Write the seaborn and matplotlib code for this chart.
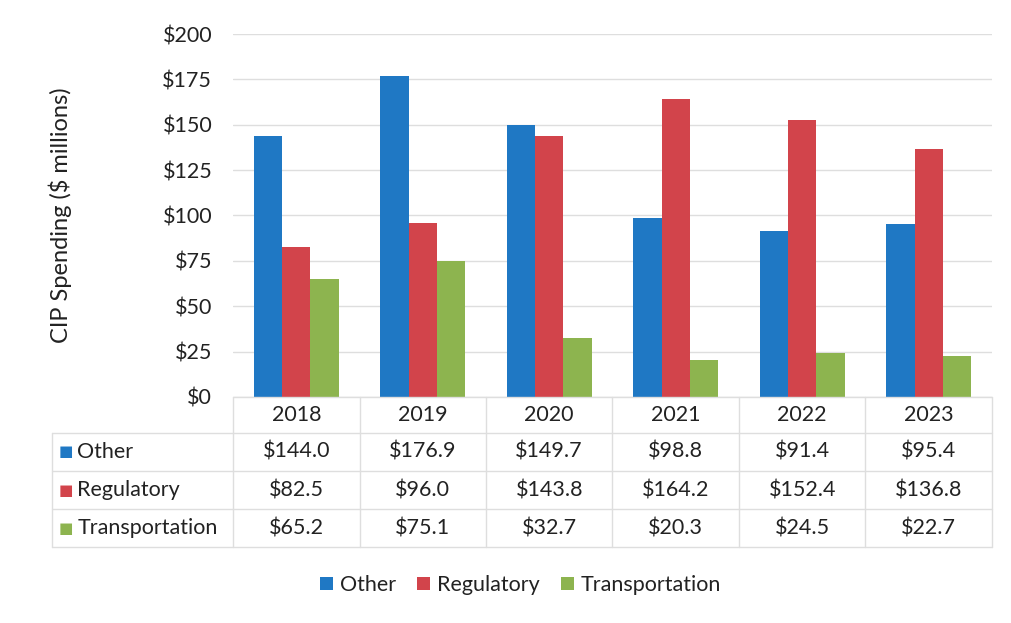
import numpy as np
import pandas as pd
import matplotlib.pyplot as plt
import matplotlib.transforms as mtransforms
import seaborn as sns

years = ["2018", "2019", "2020", "2021", "2022", "2023"]
series_names = ["Other", "Regulatory", "Transportation"]
other = [144.0, 176.9, 149.7, 98.8, 91.4, 95.4]
regulatory = [82.5, 96.0, 143.8, 164.2, 152.4, 136.8]
transportation = [65.2, 75.1, 32.7, 20.3, 24.5, 22.7]
y_ticks = [0, 25, 50, 75, 100, 125, 150, 175, 200]

colors = ["#1f78c4", "#d2444b", "#8db44f"]

df = pd.DataFrame({
    "Year": years * 3,
    "Category": np.repeat(series_names, len(years)),
    "Spending": other + regulatory + transportation,
})

sns.set_theme(style="white")
plt.rcParams["font.family"] = ["Lato", "DejaVu Sans"]
text_color = "#222222"
grid_color = "#dedede"
fs = 15.5

fig = plt.figure(figsize=(10.11, 6.23), dpi=100)
ax = fig.add_axes([0.2305, 0.3628, 0.7506, 0.5826])

sns.barplot(data=df, x="Year", y="Spending", hue="Category", palette=colors,
            width=0.67, gap=0, saturation=1, linewidth=0, ax=ax)

ax.set_xlim(-0.5, len(years) - 0.5)
ax.set_ylim(0, 200)
ax.set_yticks(y_ticks)
ax.set_yticklabels([f"${v}" for v in y_ticks])
ax.set_xticks([])
ax.set_xlabel("")
ax.set_ylabel("CIP Spending ($ millions)", fontsize=17, color=text_color)
ax.yaxis.set_label_coords(-0.212, 0.5)
ax.tick_params(axis="y", length=0, pad=15, labelsize=fs, colors=text_color)
ax.yaxis.grid(True, color=grid_color, lw=1)
ax.set_axisbelow(True)
sns.despine(ax=ax, left=True, bottom=True)

# data table under the bars
trans = mtransforms.blended_transform_factory(ax.transData, ax.transAxes)
row_edges = [0, -0.099, -0.204, -0.309, -0.413]
label_left = -1.93
x_right = len(years) - 0.5
line_kw = dict(color=grid_color, lw=1, transform=trans, clip_on=False)

ax.plot([-0.5, x_right], [row_edges[0]] * 2, **line_kw)
for y in row_edges[1:]:
    ax.plot([label_left, x_right], [y, y], **line_kw)
for i in range(len(years) + 1):
    ax.plot([i - 0.5] * 2, [row_edges[0], row_edges[-1]], **line_kw)
ax.plot([label_left] * 2, [row_edges[1], row_edges[-1]], **line_kw)

mids = [(row_edges[k] + row_edges[k + 1]) / 2 for k in range(len(row_edges) - 1)]
for i, yr in enumerate(years):
    ax.text(i, mids[0], yr, ha="center", va="center", fontsize=fs,
            color=text_color, transform=trans)

table_rows = [other, regulatory, transportation]
for r, (name, vals, c) in enumerate(zip(series_names, table_rows, colors)):
    y = mids[r + 1]
    ax.text(label_left + 0.05, y, "■", ha="left", va="center", fontsize=11,
            color=c, transform=trans, family=["DejaVu Sans"])
    ax.text(label_left + 0.2, y, name, ha="left", va="center", fontsize=fs,
            color=text_color, transform=trans)
    for i, v in enumerate(vals):
        ax.text(i, y, f"${v:.1f}", ha="center", va="center", fontsize=fs,
                color=text_color, transform=trans)

handles, labels = ax.get_legend_handles_labels()
ax.legend_.remove()
fig.legend(handles, labels, loc="center", bbox_to_anchor=(0.515, 0.061), ncol=3,
           frameon=False, fontsize=fs, handlelength=0.6, handleheight=0.6,
           handletextpad=0.3, columnspacing=1.0, labelcolor=text_color)

fig.savefig("out.png", dpi=100)
